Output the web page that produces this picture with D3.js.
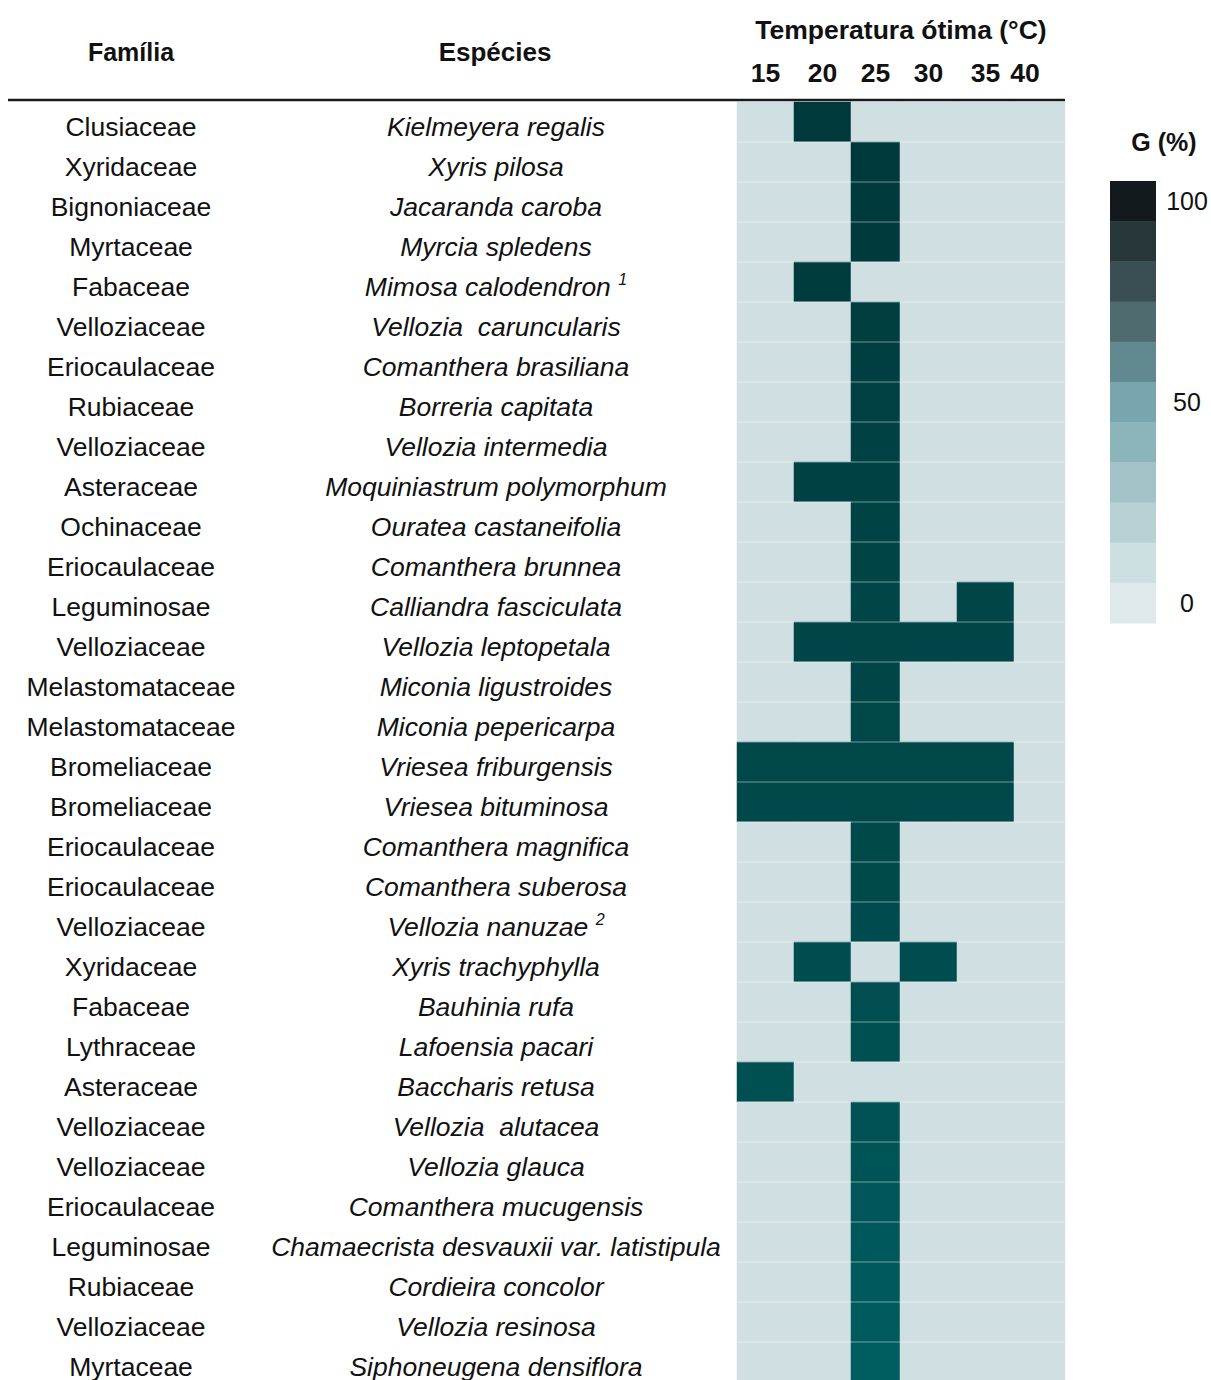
<meta charset="utf-8">
<title>Temperatura ótima de germinação</title>
<style>
  body { margin: 0; background: #fff; }
  text { font-family: "Liberation Sans", Arial, sans-serif; fill: #111; white-space: pre; }
</style>
<body>
<script src="https://cdn.jsdelivr.net/npm/d3@7"></script>
<script>
// table rows: family, species, superscript note
var familias = ['Clusiaceae','Xyridaceae','Bignoniaceae','Myrtaceae','Fabaceae','Velloziaceae',
  'Eriocaulaceae','Rubiaceae','Velloziaceae','Asteraceae','Ochinaceae','Eriocaulaceae',
  'Leguminosae','Velloziaceae','Melastomataceae','Melastomataceae','Bromeliaceae','Bromeliaceae',
  'Eriocaulaceae','Eriocaulaceae','Velloziaceae','Xyridaceae','Fabaceae','Lythraceae',
  'Asteraceae','Velloziaceae','Velloziaceae','Eriocaulaceae','Leguminosae','Rubiaceae',
  'Velloziaceae','Myrtaceae'];
var especies = ['Kielmeyera regalis','Xyris pilosa','Jacaranda caroba','Myrcia spledens',
  'Mimosa calodendron','Vellozia  caruncularis','Comanthera brasiliana','Borreria capitata',
  'Vellozia intermedia','Moquiniastrum polymorphum','Ouratea castaneifolia','Comanthera brunnea',
  'Calliandra fasciculata','Vellozia leptopetala','Miconia ligustroides','Miconia pepericarpa',
  'Vriesea friburgensis','Vriesea bituminosa','Comanthera magnifica','Comanthera suberosa',
  'Vellozia nanuzae','Xyris trachyphylla','Bauhinia rufa','Lafoensia pacari','Baccharis retusa',
  'Vellozia  alutacea','Vellozia glauca','Comanthera mucugensis',
  'Chamaecrista desvauxii var. latistipula','Cordieira concolor','Vellozia resinosa',
  'Siphoneugena densiflora'];
var notas = {4: '1', 20: '2'};

// optimal temperatures (°C) per species
var otimas = [[20],[25],[25],[25],[20],[25],[25],[25],[25],[20,25],[25],[25],
  [25,35],[20,25,30,35],[25],[25],[15,20,25,30,35],[15,20,25,30,35],[25],[25],[25],
  [20,30],[25],[25],[15],[25],[25],[25],[25],[25],[25],[25]];
// germination shade per species (G %)
var gValor = [98,98,97,97,96,92,91,90,89,88,87,86,84,84,83,82,82,81,80,79,
  78,76,75,74,73,70,68,66,64,62,60,58];

var temps = [15,20,25,30,35,40];
var legendaCores = ['#121a1d','#263639','#3a4f53','#506b70','#628890','#78a5ae',
  '#8cb4bb','#a3c3c8','#b8d1d5','#ccdfe1','#dde9ea'];
var legendaLabels = ['100','50','0'];

var W = 1211, H = 1380;
var svg = d3.select('body').append('svg').attr('width', W).attr('height', H);

// layout
var gridTop = 102, rowH = 40;
var colEdges = [737, 794, 851, 900, 957, 1014, 1065];
var xLeft = d3.scaleOrdinal().domain(temps).range(colEdges.slice(0, 6));
var xRight = d3.scaleOrdinal().domain(temps).range(colEdges.slice(1));
var y = d3.scaleBand().domain(d3.range(familias.length))
  .range([gridTop, gridTop + rowH * familias.length]);
var cor = d3.scaleLinear().domain([55, 100]).range(['#006062', '#003739']);
var fundo = '#d0dfe2';

// cells
for (var i = 0; i < familias.length; i++) {
  temps.forEach(function(t) {
    var on = otimas[i].indexOf(t) >= 0;
    svg.append('rect')
      .attr('x', xLeft(t))
      .attr('y', y(i))
      .attr('width', xRight(t) - xLeft(t))
      .attr('height', y.bandwidth())
      .style('fill', on ? cor(gValor[i]) : fundo)
      .style('stroke', on ? cor(gValor[i]) : fundo)
      .style('stroke-width', 0.5);
  });
}
// row separators
for (var i = 1; i < familias.length; i++) {
  svg.append('line')
    .attr('x1', colEdges[0]).attr('x2', colEdges[6])
    .attr('y1', y(i)).attr('y2', y(i))
    .style('stroke', '#fff').style('stroke-opacity', 0.3).style('stroke-width', 1.5);
}

// row labels
for (var i = 0; i < familias.length; i++) {
  var base = y(i) + 34;
  svg.append('text')
    .attr('x', 131).attr('y', base)
    .attr('text-anchor', 'middle')
    .style('font-size', '26.5px')
    .text(familias[i]);
  var sp = svg.append('text')
    .attr('x', 496).attr('y', base)
    .attr('text-anchor', 'middle')
    .style('font-size', '26.5px')
    .style('font-style', 'italic')
    .text(especies[i] + (notas[i] ? ' ' : ''));
  if (notas[i]) {
    sp.append('tspan').attr('dy', -11).style('font-size', '16px').text(notas[i]);
  }
}

// headers
svg.append('text').attr('x', 131).attr('y', 61).attr('text-anchor', 'middle')
  .style('font-size', '25px').style('font-weight', 'bold').text('Família');
svg.append('text').attr('x', 495).attr('y', 61).attr('text-anchor', 'middle')
  .style('font-size', '26px').style('font-weight', 'bold').text('Espécies');
svg.append('text').attr('x', 901).attr('y', 39).attr('text-anchor', 'middle')
  .style('font-size', '26.5px').style('font-weight', 'bold').text('Temperatura ótima (°C)');
temps.forEach(function(t) {
  var cx = (xLeft(t) + xRight(t)) / 2;
  svg.append('text')
    .attr('x', Math.min(cx, colEdges[6] - 40)).attr('y', 82)
    .attr('text-anchor', 'middle')
    .style('font-size', '26.5px').style('font-weight', 'bold')
    .text(t);
});
svg.append('line')
  .attr('x1', 8).attr('x2', colEdges[6])
  .attr('y1', 100).attr('y2', 100)
  .style('stroke', '#1a1a1a').style('stroke-width', 2.5);

// legend
var ly = d3.scaleBand().domain(d3.range(legendaCores.length)).range([181, 623]);
legendaCores.forEach(function(c, k) {
  svg.append('rect')
    .attr('x', 1110).attr('y', ly(k))
    .attr('width', 46).attr('height', ly.bandwidth() + 0.5)
    .style('fill', c);
});
var lyLab = d3.scalePoint().domain(legendaLabels).range([ly(0), ly(legendaCores.length - 1)]);
legendaLabels.forEach(function(l) {
  svg.append('text')
    .attr('x', 1187).attr('y', lyLab(l) + ly.bandwidth() / 2 + 9)
    .attr('text-anchor', 'middle')
    .style('font-size', '25px')
    .text(l);
});
svg.append('text').attr('x', 1164).attr('y', 151).attr('text-anchor', 'middle')
  .style('font-size', '25px').style('font-weight', 'bold').text('G (%)');
</script>
